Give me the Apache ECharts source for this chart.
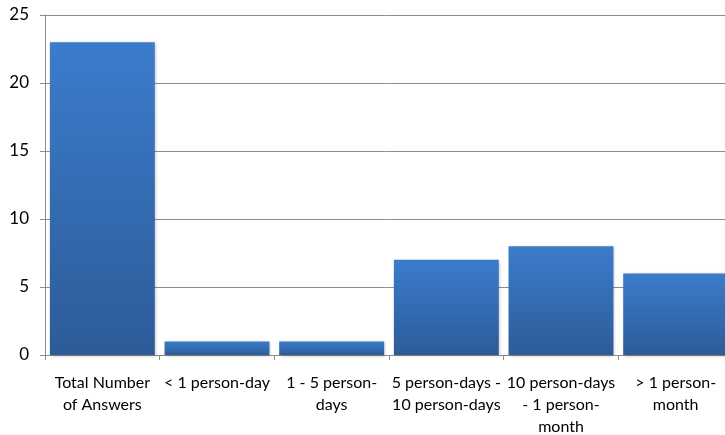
<!DOCTYPE html>
<html><head><meta charset="utf-8">
<script src="https://cdn.jsdelivr.net/npm/echarts@6/dist/echarts.min.js"></script>
<style>html,body{margin:0;padding:0;background:#fff}#c{width:725px;height:435px}</style>
</head><body><div id="c"></div>
<script>
const categories = ["Total Number\nof Answers", "< 1 person-day", "1 - 5 person-\ndays", "5 person-days -\n10 person-days", "10 person-days\n- 1 person-\nmonth", "> 1 person-\nmonth"];
const values = [23, 1, 1, 7, 8, 6];
const yTicks = {min: 0, max: 25, interval: 5};

const chart = echarts.init(document.getElementById('c'));
chart.setOption({
  animation: false,
  grid: {left: 45, top: 15, width: 688, height: 340, containLabel: false, outerBoundsMode: 'none'},
  xAxis: {
    type: 'category', data: categories,
    axisLine: {lineStyle: {color: '#8c8c8c', width: 1}},
    axisTick: {show: true, length: 5, lineStyle: {color: '#8c8c8c'}},
    axisLabel: {color: '#000', fontFamily: 'Lato, "Open Sans", sans-serif', fontSize: 16, lineHeight: 22, margin: 17, interval: 0}
  },
  yAxis: {
    type: 'value', min: yTicks.min, max: yTicks.max, interval: yTicks.interval,
    axisLine: {show: true, lineStyle: {color: '#8c8c8c', width: 1}},
    axisTick: {show: true, length: 5, lineStyle: {color: '#8c8c8c'}},
    axisLabel: {color: '#000', fontFamily: 'Lato, "Open Sans", sans-serif', fontSize: 17, margin: 16},
    splitLine: {lineStyle: {color: '#8c8c8c', width: 1}}
  },
  series: [{
    type: 'bar', data: values, barCategoryGap: '8.5%',
    itemStyle: {
      color: new echarts.graphic.LinearGradient(0, 0, 0, 1, [
        {offset: 0, color: '#3b7ccc'},
        {offset: 1, color: '#2d5b98'}
      ]),
      shadowColor: 'rgba(0,0,0,0.25)', shadowBlur: 3, shadowOffsetX: 1, shadowOffsetY: 1
    }
  }]
});
</script></body></html>
